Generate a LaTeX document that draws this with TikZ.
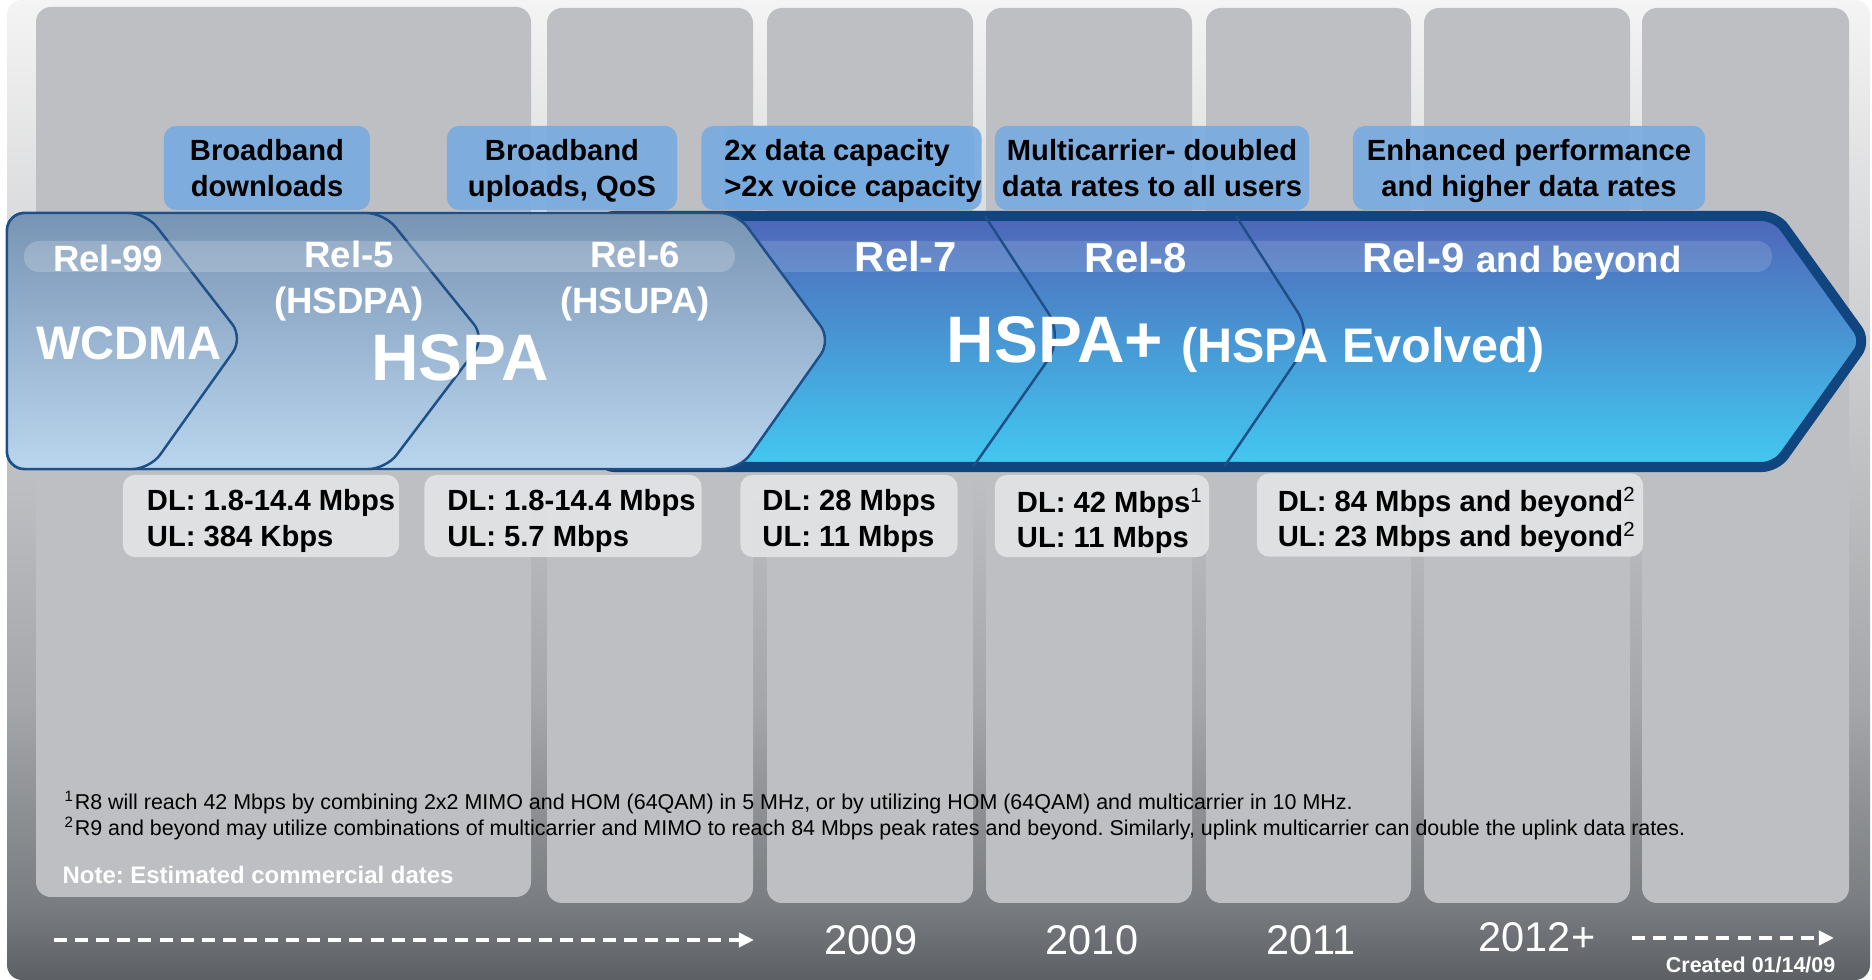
\documentclass[tikz,border=0pt]{standalone}
\usepackage{fontspec}
\setmainfont{Liberation Sans}
\usetikzlibrary{positioning, arrows.meta}
\frenchspacing

\definecolor{bgA}{HTML}{F4F4F4}
\definecolor{bgB}{HTML}{D2D3D5}
\definecolor{bgC}{HTML}{A4A6A9}
\definecolor{bgD}{HTML}{7A7D81}
\definecolor{bgE}{HTML}{5C5F63}
\definecolor{colgray}{HTML}{BDBFC2}
\definecolor{boxblue}{HTML}{78ABE0}
\definecolor{boxgray}{HTML}{E2E3E5}
\definecolor{navy}{HTML}{10457F}
\definecolor{lineblue}{HTML}{1E4F86}
\definecolor{lightA}{HTML}{7894B4}
\definecolor{lightB}{HTML}{A2BFDA}
\definecolor{lightC}{HTML}{BAD6EE}
\definecolor{plusA}{HTML}{4E66B8}
\definecolor{plusB}{HTML}{5AA2DC}
\definecolor{plusC}{HTML}{42C9F1}

\pgfdeclareverticalshading{backdrop}{100bp}{color(0bp)=(bgE); color(25bp)=(bgE);
  color(29bp)=(bgD); color(39bp)=(bgC); color(60bp)=(bgB); color(75bp)=(bgA); color(100bp)=(bgA)}

\tikzset{
  yearcol/.style={fill=colgray, rounded corners=0.15cm},
  topbox/.style={fill=boxblue, fill opacity=0.92, text opacity=1, rounded corners=0.12cm,
    minimum height=0.84cm, inner sep=0pt, text depth=0pt, align=center,
    font=\fontsize{8.3}{10}\selectfont\bfseries},
  databox/.style={fill=boxgray, fill opacity=0.92, rounded corners=0.12cm,
    minimum height=0.82cm, inner sep=0pt},
  datatext/.style={inner sep=0pt, text depth=0pt, align=left, font=\fontsize{8.3}{10}\selectfont\bfseries},
  lightpart/.style={draw=lineblue, line width=0.7pt, rounded corners=5pt,
    top color=lightA, middle color=lightB, bottom color=lightC},
  relname/.style={text=white, inner sep=0pt, align=center,
    font=\fontsize{10.4}{13.1}\selectfont\bfseries},
  relplus/.style={text=white, inner sep=0pt, font=\fontsize{11.9}{14}\selectfont\bfseries},
  bigname/.style={text=white, inner sep=0pt, font=\fontsize{18.7}{21}\selectfont\bfseries},
  yearname/.style={text=white, inner sep=0pt, font=\fontsize{11.8}{14}\selectfont},
  timeline/.style={white, line width=1.1pt, dash pattern=on 3.7pt off 2.3pt,
    -{Triangle[length=4.3pt,width=4pt]}},
  gloss/.style={fill=white, fill opacity=0.2, rounded corners=0.15cm}
}

\begin{document}
\begin{tikzpicture}[x=0.01cm, y=-0.01cm]
  \useasboundingbox (0,0) rectangle (1872,980);
  % backdrop and year columns
  \path[shading=backdrop, rounded corners=0.15cm] (7,0) rectangle (1870,980);
  \fill[yearcol] (36,7) rectangle (531,897);
  \foreach \l/\r in {547/753, 767/973, 986/1192, 1206/1411, 1424/1630, 1642/1849}
    \fill[yearcol] (\l,8) rectangle (\r,903);

  % feature boxes
  \node[topbox, minimum width=2.06cm] (t1) at (267,168) {Broadband\\downloads};
  \node[topbox, minimum width=2.30cm] (t2) at (562,168) {Broadband\\uploads, QoS};
  \node[topbox, minimum width=2.73cm] (t3) at (838,168) {};
  \node[topbox, align=left, right=0.23cm of t3.west] (t3t) {2x data capacity\\>2x voice capacity};
  \node[topbox, minimum width=3.14cm] (t4) at (1152,168) {Multicarrier- doubled\\data rates to all users};
  \node[topbox, minimum width=3.52cm] (t5) at (1529,168) {Enhanced performance\\and higher data rates};

  % HSPA+ band
  \draw[navy, line width=2.85pt, rounded corners=4pt, top color=plusA, middle color=plusB, bottom color=plusC]
    (600,216) -- (1776,216) -- (1866,341) -- (1776,467) -- (600,467) -- cycle;
  \fill[gloss, fill opacity=0.14] (740,241) rectangle (1772,272);
  \draw[lineblue, line width=0.7pt, rounded corners=8pt] (985,216) -- (1064,337) -- (973,467);
  \draw[lineblue, line width=0.7pt, rounded corners=8pt] (1236,216) -- (1313,336) -- (1224,467);

  % WCDMA / HSPA chevrons
  \draw[lightpart] (7,213) -- (737,213) -- (831,340) -- (740,469) -- (7,469) -- cycle;
  \draw[lightpart] (7,213) -- (384,213) -- (485,338) -- (386,469) -- (7,469) -- cycle;
  \draw[lightpart] (7,213) -- (146,213) -- (243,338) -- (150,469) -- (7,469) -- cycle;
  \fill[gloss] (24,241) rectangle (735,272);

  % band labels
  \node[relname, anchor=base] (r99) at (108,272) {Rel-99};
  \node[text=white, inner sep=0pt, anchor=base, font=\fontsize{13.4}{16}\selectfont\bfseries] (wcdma) at (129,360) {WCDMA};
  \node[relname] (r5) at (349,281) {Rel-5\\(HSDPA)};
  \node[relname] (r6) at (635,281) {Rel-6\\(HSUPA)};
  \node[bigname, anchor=base] (hspa) at (460,381) {HSPA};
  \node[relplus, anchor=base] (r7) at (906,272) {Rel-7};
  \node[relplus, anchor=base] (r8) at (1136,273) {Rel-8};
  \node[relplus, anchor=base] (r9) at (1522,273) {Rel-9 {\fontsize{10.4}{12}\selectfont and beyond}};
  \node[bigname, anchor=base west] (hspaplus) at (946,363) {HSPA+ {\fontsize{13.8}{16}\selectfont (HSPA Evolved)}};

  % data rate boxes
  \node[databox, minimum width=2.76cm] (d1) at (261,516) {};
  \node[databox, minimum width=2.77cm] (d2) at (563,516) {};
  \node[databox, minimum width=2.17cm] (d3) at (849,516) {};
  \node[databox, minimum width=2.14cm] (d4) at (1102,516) {};
  \node[databox, minimum width=3.86cm, minimum height=0.83cm] (d5) at (1450,515) {};
  \node[datatext, right=0.24cm of d1.west, yshift=-0.02cm] (d1t) {DL: 1.8-14.4 Mbps\\UL: 384 Kbps};
  \node[datatext, right=0.23cm of d2.west, yshift=-0.02cm] (d2t) {DL: 1.8-14.4 Mbps\\UL: 5.7 Mbps};
  \node[datatext, right=0.22cm of d3.west, yshift=-0.02cm] (d3t) {DL: 28 Mbps\\UL: 11 Mbps};
  \node[datatext, right=0.22cm of d4.west, yshift=-0.02cm] (d4t) {DL: 42 Mbps\textsuperscript{\mdseries 1}\\UL: 11 Mbps};
  \node[datatext, right=0.21cm of d5.west, yshift=-0.02cm] (d5t) {DL: 84 Mbps and beyond\textsuperscript{\mdseries 2}\\UL: 23 Mbps and beyond\textsuperscript{\mdseries 2}};

  % footnotes
  \node[inner sep=0pt, anchor=north west, align=left, font=\fontsize{6.1}{7.4}\selectfont] (notes) at (64,790)
    {\textsuperscript{1}R8 will reach 42 Mbps by combining 2x2 MIMO and HOM (64QAM) in 5 MHz, or by utilizing HOM (64QAM) and multicarrier in 10 MHz.\\
     \textsuperscript{2}R9 and beyond may utilize combinations of multicarrier and MIMO to reach 84 Mbps peak rates and beyond. Similarly, uplink multicarrier can double the uplink data rates.};
  \node[text=white, inner sep=0pt, anchor=base west, font=\fontsize{6.8}{8}\selectfont\bfseries] (note) at (62,884) {Note: Estimated commercial dates};

  % time line
  \coordinate (tl0) at (54,940);
  \coordinate (tl1) at (754,940);
  \coordinate (tr0) at (1632,938);
  \coordinate (tr1) at (1834,938);
  \draw[timeline] (tl0) -- (tl1);
  \draw[timeline] (tr0) -- (tr1);
  \node[yearname, anchor=base] (y09) at (871,955) {2009};
  \node[yearname, anchor=base] (y10) at (1092,955) {2010};
  \node[yearname, anchor=base] (y11) at (1311,955) {2011};
  \node[yearname, anchor=base] (y12) at (1537,952) {2012+};
  \node[text=white, inner sep=0pt, anchor=base east, font=\fontsize{6.1}{7}\selectfont\bfseries] (created) at (1836,973) {Created 01/14/09};
\end{tikzpicture}
\end{document}
